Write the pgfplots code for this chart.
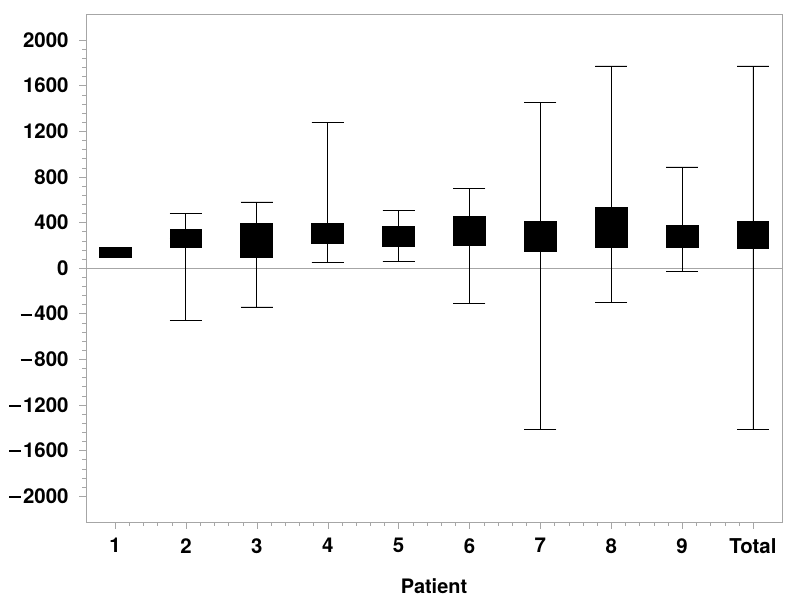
\documentclass[border=0pt]{standalone}
\usepackage{fontspec}
\setmainfont{TeX Gyre Heros}
\usepackage{pgfplots}
\pgfplotsset{compat=1.18}
\usepgfplotslibrary{statistics}
\newcommand\mn{\rule[0.26em]{0.56em}{0.1em}\kern0.12em}
\begin{document}
\begin{tikzpicture}[x=1bp,y=1bp]
\path (0,0) rectangle (800,607);
\begin{axis}[
  at={(86bp,85bp)}, anchor=south west,
  scale only axis,
  width=696bp, height=508bp,
  xmin=0.59, xmax=10.41,
  ymin=-2228, ymax=2228,
  axis line style={gray!70},
  tick style={gray!70},
  tick align=outside,
  xtick pos=left, ytick pos=left,
  major tick length=7bp, minor tick length=4bp,
  xtick={1,...,10},
  xticklabels={1,2,3,4,5,6,7,8,9,Total},
  minor x tick num=4,
  ytick={-2000,-1600,...,2000},
  yticklabels={\mn2000,\mn1600,\mn1200,\mn800,\mn400,0,400,800,1200,1600,2000},
  minor y tick num=4,
  ticklabel style={font=\fontsize{20.5}{22}\selectfont\bfseries},
  xticklabel style={yshift=-6bp},
  yticklabel style={xshift=-7bp},
  xlabel={Patient},
  xlabel style={font=\fontsize{20}{22}\selectfont\bfseries, yshift=-18bp},
  boxplot/draw direction=y,
  boxplot/box extend=0.45,
  boxplot/whisker extend=0.45,
  bx/.style={solid, draw=black, fill=black, line width=0.9bp, mark=none},
]
\draw[gray!70] (axis cs:0.59,0) -- (axis cs:10.41,0);
\addplot[bx, boxplot prepared={draw position=1, lower whisker=94, lower quartile=94, median=140, upper quartile=181, upper whisker=181}] coordinates {};
\addplot[bx, boxplot prepared={draw position=2, lower whisker=-462, lower quartile=181, median=260, upper quartile=339, upper whisker=480}] coordinates {};
\addplot[bx, boxplot prepared={draw position=3, lower whisker=-342, lower quartile=94, median=240, upper quartile=392, upper whisker=579}] coordinates {};
\addplot[bx, boxplot prepared={draw position=4, lower whisker=50, lower quartile=217, median=300, upper quartile=392, upper whisker=1275}] coordinates {};
\addplot[bx, boxplot prepared={draw position=5, lower whisker=61, lower quartile=187, median=280, upper quartile=368, upper whisker=503}] coordinates {};
\addplot[bx, boxplot prepared={draw position=6, lower whisker=-310, lower quartile=196, median=320, upper quartile=450, upper whisker=696}] coordinates {};
\addplot[bx, boxplot prepared={draw position=7, lower whisker=-1418, lower quartile=149, median=280, upper quartile=409, upper whisker=1453}] coordinates {};
\addplot[bx, boxplot prepared={draw position=8, lower whisker=-304, lower quartile=184, median=360, upper quartile=535, upper whisker=1772}] coordinates {};
\addplot[bx, boxplot prepared={draw position=9, lower whisker=-32, lower quartile=184, median=280, upper quartile=371, upper whisker=886}] coordinates {};
\addplot[bx, boxplot prepared={draw position=10, lower whisker=-1418, lower quartile=170, median=290, upper quartile=409, upper whisker=1772}] coordinates {};
\end{axis}
\end{tikzpicture}
\end{document}
